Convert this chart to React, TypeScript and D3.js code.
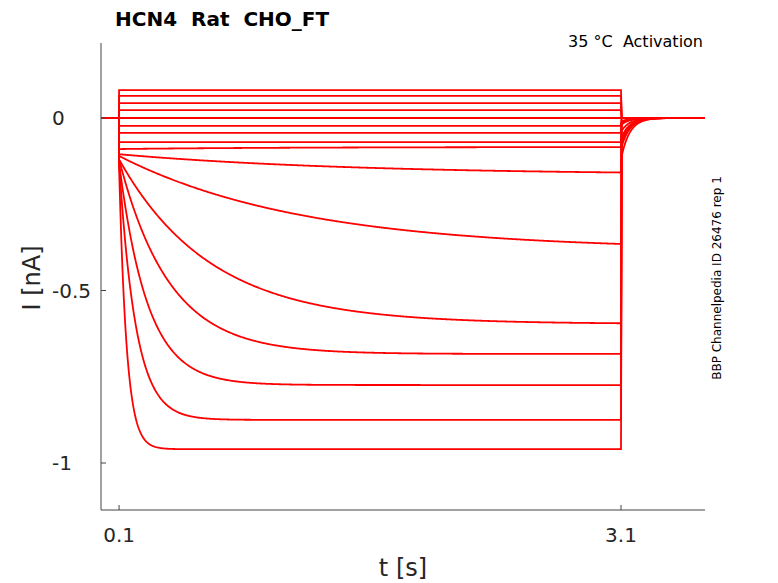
import * as d3 from 'd3'

// per-sweep parameters (nA, s)
const steadyState = [0.081, 0.064, 0.043, 0.023, 0.0, -0.023, -0.043, -0.07, -0.084, -0.165, -0.383, -0.597, -0.684, -0.774, -0.875, -0.96]
const startLevel = [0.081, 0.064, 0.043, 0.023, 0.0, -0.023, -0.043, -0.07, -0.09, -0.105, -0.11, -0.12, -0.12, -0.13, -0.13, -0.14]
const tau = [1, 1, 1, 1, 1, 1, 1, 1, 1, 1.4, 1.1, 0.55, 0.3, 0.17, 0.1, 0.045]
const tailDip = [0, 0, 0, 0, 0, 0, 0, -0.01, -0.015, -0.02, -0.04, -0.06, -0.07, -0.08, -0.09, -0.12]

const xTicks = [0.1, 3.1]
const yTicks = [0, -0.5, -1]

const W = 778, H = 583
const m = { left: 101, right: 73, top: 43, bottom: 73 }

export default function App() {
  const x = d3.scaleLinear().domain([-0.008, 3.602]).range([m.left, W - m.right])
  const y = d3.scaleLinear().domain([0, -1]).range([118, 463])

  const times = d3.range(-0.008, 3.602, 0.004)
  const line = d3.line<[number, number]>().x(d => x(d[0])).y(d => y(d[1]))

  const traces = steadyState.map((ss, i) => {
    const pts: [number, number][] = times.map(t => {
      if (t < 0.1) return [t, 0]
      if (t <= 3.1) return [t, ss + (startLevel[i] - ss) * Math.exp(-(t - 0.1) / tau[i])]
      return [t, tailDip[i] * Math.exp(-(t - 3.1) / 0.05)]
    })
    pts.splice(times.findIndex(t => t >= 0.1), 0, [0.1, 0])
    return pts
  })

  const font = 'DejaVu Sans, sans-serif'
  return (
    <svg width={W} height={H} style={{ position: 'absolute', left: 0, top: 0 }} fontFamily={font}>
      <rect width={W} height={H} fill="#fff" />
      <clipPath id="c"><rect x={m.left} y={m.top} width={W - m.left - m.right} height={H - m.top - m.bottom} /></clipPath>
      <g clipPath="url(#c)" fill="none" stroke="#ff0000" strokeWidth={1.8}>
        {traces.map((p, i) => <path key={i} d={line(p) || ''} />)}
      </g>
      <line x1={m.left} x2={m.left} y1={m.top} y2={H - m.bottom} stroke="#444" />
      <line x1={m.left} x2={W - m.right} y1={H - m.bottom} y2={H - m.bottom} stroke="#444" />
      {yTicks.map(v => (
        <g key={v}>
          <line x1={m.left} x2={m.left + 5} y1={y(v)} y2={y(v)} stroke="#444" />
          <text x={52} y={y(v) + 7} textAnchor="start" fontSize={20} fill="#262626">{v}</text>
        </g>
      ))}
      {xTicks.map(v => (
        <g key={v}>
          <line x1={x(v)} x2={x(v)} y1={H - m.bottom} y2={H - m.bottom - 5} stroke="#444" />
          <text x={x(v)} y={542} textAnchor="middle" fontSize={20} fill="#262626">{v}</text>
        </g>
      ))}
      <text x={403} y={576} textAnchor="middle" fontSize={24} fill="#262626">t [s]</text>
      <text transform="translate(40,278) rotate(-90)" textAnchor="middle" fontSize={24} fill="#262626">I [nA]</text>
      <text x={115} y={26} fontSize={20} fontWeight="bold" fill="#000" style={{ whiteSpace: 'pre' }}>HCN4  Rat  CHO_FT</text>
      <text x={703} y={47} textAnchor="end" fontSize={16} fill="#000" style={{ whiteSpace: 'pre' }}>35 °C  Activation</text>
      <text transform="translate(721,278) rotate(-90)" textAnchor="middle" fontSize={12} fill="#000">BBP Channelpedia ID 26476 rep 1</text>
    </svg>
  )
}
